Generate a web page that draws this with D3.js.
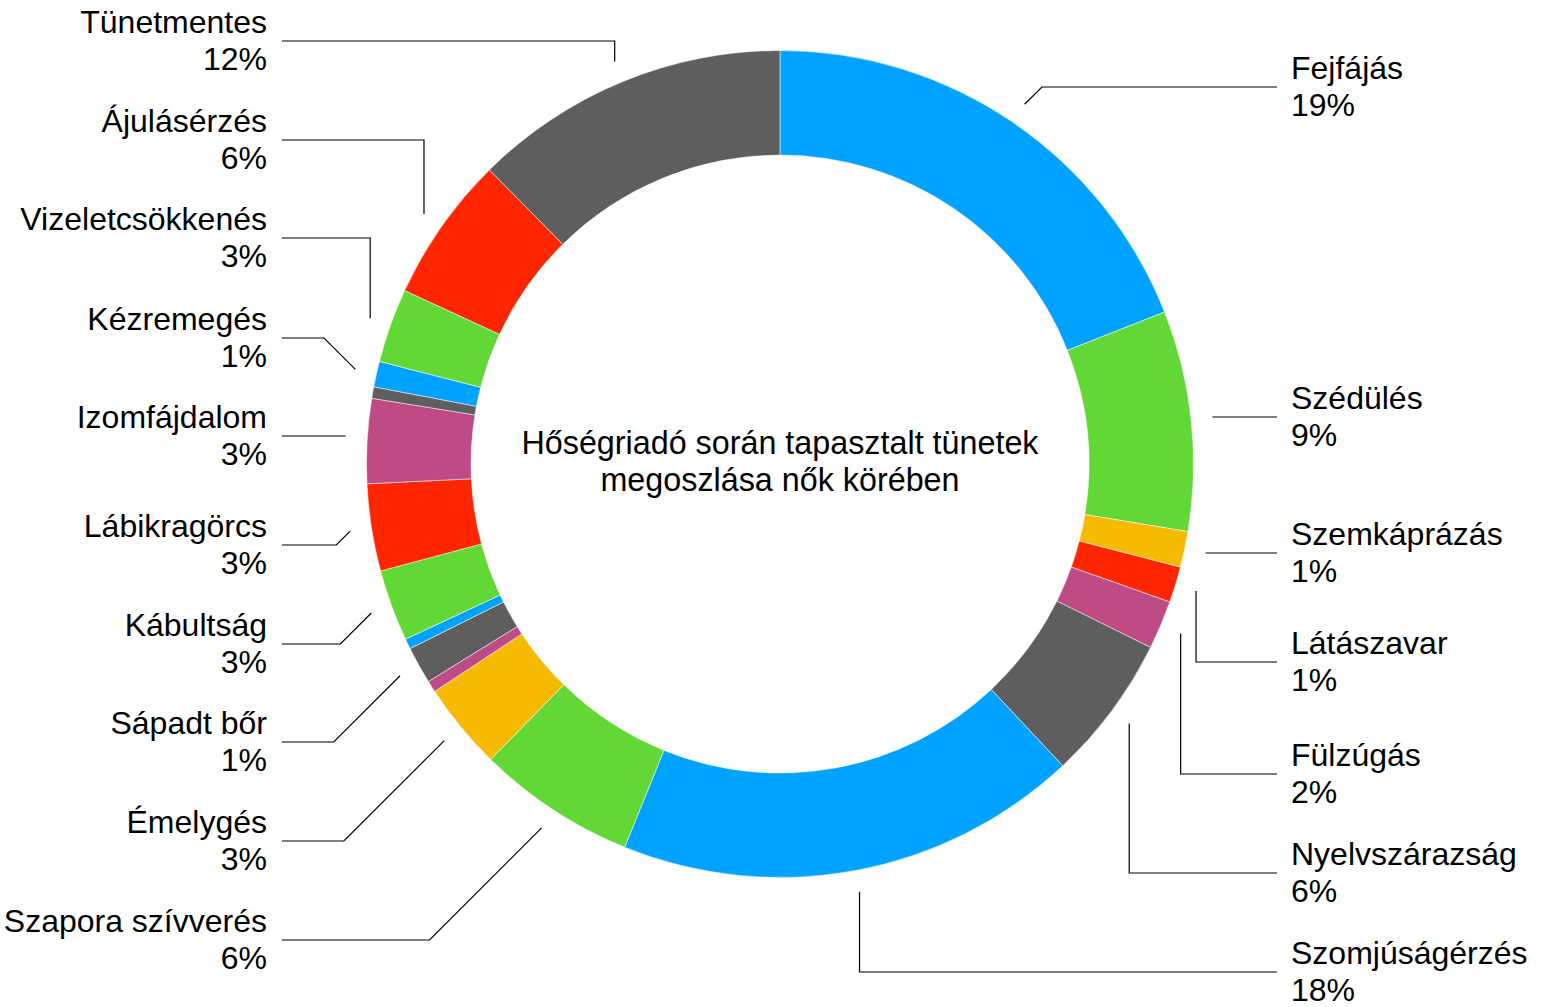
<!DOCTYPE html>
<html lang="hu">
<head>
<meta charset="utf-8">
<title>Hőségriadó során tapasztalt tünetek megoszlása nők körében</title>
<script src="https://cdn.jsdelivr.net/npm/d3@7"></script>
<style>
  html, body { margin: 0; padding: 0; background: #fff; }
  svg { display: block; font-family: "Liberation Sans", Arial, Helvetica, sans-serif; }
</style>
</head>
<body>
<svg id="chart" width="1543" height="1007"></svg>
<script>
// Symptom shares (%), clockwise from 12 o'clock. Empty names are slivers drawn without a label.
const categories = [
  "Fejfájás", "Szédülés", "Szemkáprázás", "Látászavar", "Fülzúgás",
  "Nyelvszárazság", "Szomjúságérzés", "Szapora szívverés", "Émelygés", "",
  "Sápadt bőr", "", "Kábultság", "Lábikragörcs", "Izomfájdalom",
  "", "Kézremegés", "Vizeletcsökkenés", "Ájulásérzés", "Tünetmentes"
];
const values = [
  19.0, 8.6, 1.4, 1.4, 1.9,
  5.7, 18.1, 6.2, 3.4, 0.45,
  1.45, 0.4, 2.8, 3.4, 3.3,
  0.45, 1.0, 2.9, 5.7, 12.4
];
const titleLines = ["Hőségriadó során tapasztalt tünetek", "megoszlása nők körében"];

// Styling: slice fills, leader shapes ('d' = 45° bend, 'v' = vertical bend) and label rows.
const palette = {
  blue: "#00a2ff", green: "#61d836", yellow: "#f8ba00",
  red: "#ff2600", magenta: "#be4a86", gray: "#5e5e5e"
};
const sliceColors = [
  "blue", "green", "yellow", "red", "magenta",
  "gray", "blue", "green", "yellow", "magenta",
  "gray", "blue", "green", "red", "magenta",
  "gray", "blue", "green", "red", "gray"
].map(k => palette[k]);
const leaderShape = [
  "d", "d", "d", "v", "v",
  "v", "v", "d", "d", null,
  "d", null, "d", "d", "d",
  null, "d", "v", "v", "v"
];
const labelRowY = [
  87, 417, 553, 662, 774,
  873, 972, 940, 841, null,
  742, null, 644, 545, 436,
  null, 338, 238, 140, 41
];

const svg = d3.select("#chart");
const cx = 780, cy = 464;
const outerR = 413.5, innerR = 309, leaderR = 435;
const leftTextX = 267, rightTextX = 1291;
const leftLineEnd = 282, rightLineEnd = 1277;
const fontSize = 32;

const data = categories.map((name, i) => ({ name, value: values[i], i }));
const total = d3.sum(values);

const pie = d3.pie().value(d => d.value).sort(null);
const arcs = pie(data);

const arc = d3.arc().innerRadius(innerR).outerRadius(outerR);
const leaderArc = d3.arc().innerRadius(leaderR).outerRadius(leaderR);

const g = svg.append("g").attr("transform", `translate(${cx},${cy})`);

g.selectAll("path.slice")
  .data(arcs)
  .join("path")
  .attr("class", "slice")
  .attr("d", arc)
  .attr("fill", d => sliceColors[d.data.i])
  .attr("stroke", "#ffffff")
  .attr("stroke-width", 0.5);

// Center title
const title = svg.append("text")
  .attr("x", cx)
  .attr("text-anchor", "middle")
  .attr("font-size", 32.3)
  .attr("fill", "#000");
titleLines.forEach((line, k) => {
  title.append("tspan").attr("x", cx).attr("y", 454 + k * 37).text(line);
});

// Leader lines and labels
const labelled = arcs.filter(d => d.data.name !== "");
const labels = svg.append("g");

labelled.forEach(d => {
  const i = d.data.i;
  const [ex0, ey0] = leaderArc.centroid(d);
  const ex = cx + ex0, ey = cy + ey0;
  const mid = (d.startAngle + d.endAngle) / 2;
  const left = mid > Math.PI;
  const ly = labelRowY[i];
  const hx = left ? leftLineEnd : rightLineEnd;
  const dy = Math.abs(ly - ey);

  let path;
  if (dy < 4) {
    path = `M${ex},${ly}H${hx}`;
  } else if (leaderShape[i] === "v") {
    path = `M${ex},${ey}V${ly}H${hx}`;
  } else {
    const bx = left ? ex - dy : ex + dy;
    path = `M${ex},${ey}L${bx},${ly}H${hx}`;
  }
  labels.append("path")
    .attr("d", path)
    .attr("fill", "none")
    .attr("stroke", "#000")
    .attr("stroke-width", 1.2);

  const t = labels.append("text")
    .attr("text-anchor", left ? "end" : "start")
    .attr("font-size", fontSize)
    .attr("fill", "#000");
  const tx = left ? leftTextX : rightTextX;
  t.append("tspan").attr("x", tx).attr("y", ly - 8).text(d.data.name);
  t.append("tspan").attr("x", tx).attr("y", ly + 29)
    .text(Math.round(d.data.value / total * 100) + "%");
});
</script>
</body>
</html>
